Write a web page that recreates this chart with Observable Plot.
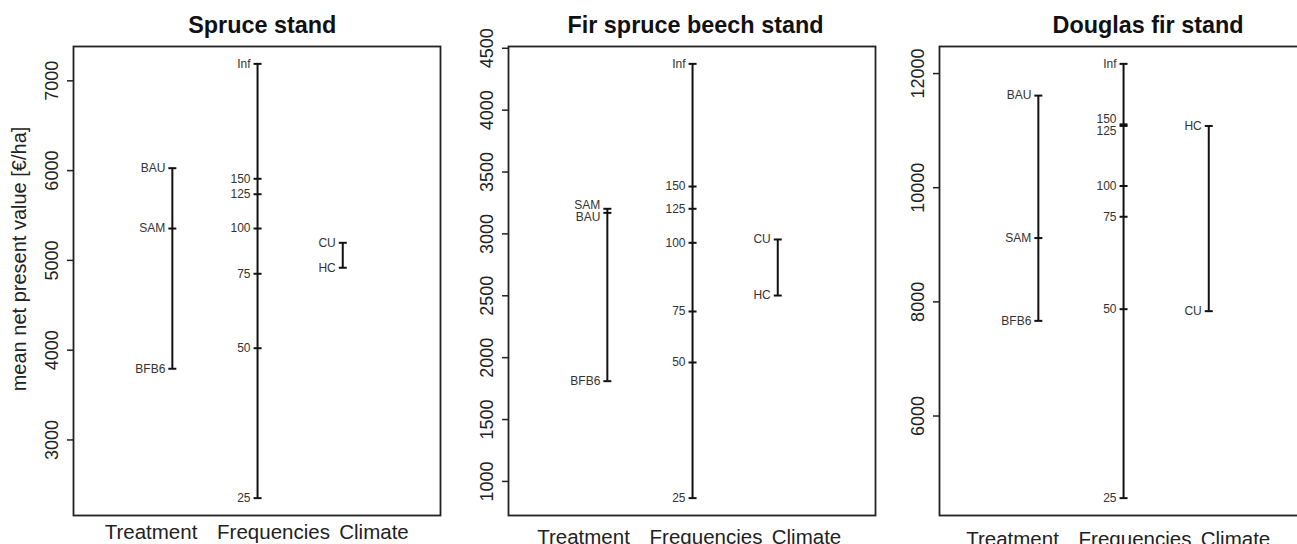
<!DOCTYPE html>
<html><head><meta charset="utf-8">
<script src="https://cdn.jsdelivr.net/npm/d3@7"></script>
<script src="https://cdn.jsdelivr.net/npm/@observablehq/plot@0.6"></script>
<style>
html,body{margin:0;padding:0;background:#fff;}
#chart{position:relative;width:1297px;height:544px;overflow:hidden;background:#fff;}
#chart > div{position:absolute;top:0;width:450px;height:544px;}
#chart svg{max-width:none !important;}
</style></head><body><div id="chart"></div>
<script>
// ---------- data ----------
const panelTitles = ["Spruce stand", "Fir spruce beech stand", "Douglas fir stand"];
const groupNames = ["Treatment", "Frequencies", "Climate"];
const treatmentLabels = ["BAU", "SAM", "BFB6"];
const frequencyLabels = ["Inf", "150", "125", "100", "75", "50", "25"];
const climateLabels = ["CU", "HC"];

const spruceTreatment = [6027, 5355, 3793];
const spruceFrequencies = [7189, 5909, 5737, 5355, 4851, 4022, 2352];
const spruceClimate = [5196, 4918];
const spruceTicks = [3000, 4000, 5000, 6000, 7000];

const firTreatment = [3170, 3203, 1810];
const firFrequencies = [4374, 3383, 3203, 2928, 2373, 1961, 865];
const firClimate = [2955, 2502];
const firTicks = [1000, 1500, 2000, 2500, 3000, 3500, 4000, 4500];

const douglasTreatment = [11614, 9118, 7667];
const douglasFrequencies = [12170, 11110, 11082, 10030, 9491, 7872, 4561];
const douglasClimate = [7837, 11082];
const douglasTicks = [6000, 8000, 10000, 12000];

const yLabel = "mean net present value [€/ha]";

// ---------- layout ----------
const FRAME_W = 367, M_LEFT = 73, M_RIGHT = 10, M_TOP = 46, M_BOTTOM = 29, H = 544;
const layout = [
  {left: 73,  titleDx: 5.3, xlabShift: 2.5, xlabBaseline: 538},
  {left: 508, titleDx: 3.5, xlabShift: 0,   xlabBaseline: 543},
  {left: 939, titleDx: 25,  xlabShift: -2,  xlabBaseline: 545}
];
const xDomain = [-0.160, 4.147];
const groupLabelPx = [75, 197.5, 298];
const pxToX = px => xDomain[0] + px / FRAME_W * (xDomain[1] - xDomain[0]);
const FONT = "'Liberation Sans', Arial, Helvetica, sans-serif";

const panelData = [
  {title: panelTitles[0], values: [spruceTreatment, spruceFrequencies, spruceClimate], ticks: spruceTicks},
  {title: panelTitles[1], values: [firTreatment, firFrequencies, firClimate], ticks: firTicks},
  {title: panelTitles[2], values: [douglasTreatment, douglasFrequencies, douglasClimate], ticks: douglasTicks}
];
const labelSets = [treatmentLabels, frequencyLabels, climateLabels];

function spread(ys, gap) {
  const items = ys.map((y, i) => ({i, y})).sort((a, b) => a.y - b.y);
  for (let it = 0; it < 100; it++) {
    let moved = false;
    for (let k = 1; k < items.length; k++) {
      const d = items[k].y - items[k - 1].y;
      if (d < gap - 1e-6) { const s = (gap - d) / 2; items[k - 1].y -= s; items[k].y += s; moved = true; }
    }
    if (!moved) break;
  }
  const out = []; items.forEach(o => out[o.i] = o.y); return out;
}

const dash = {draw(ctx) { ctx.moveTo(-4, 0); ctx.lineTo(4, 0); }};
const chart = document.getElementById("chart");

panelData.forEach((p, pi) => {
  const L = layout[pi];
  const all = p.values.flat();
  const [lo, hi] = d3.extent(all);
  const pad = (hi - lo) * 0.04;
  const domain = [lo - pad, hi + pad];
  const ys = d3.scaleLinear(domain, [H - M_BOTTOM, M_TOP]);

  const points = [];
  const ranges = [];
  p.values.forEach((vals, gi) => {
    const labs = labelSets[gi];
    const spreadPx = spread(vals.map(v => ys(v)), 12);
    vals.forEach((v, k) => points.push({group: groupNames[gi], pos: gi + 1, label: labs[k], value: v, labelY: ys.invert(spreadPx[k])}));
    ranges.push({group: groupNames[gi], pos: gi + 1, min: d3.min(vals), max: d3.max(vals)});
  });

  const marks = [
    Plot.frame({stroke: "#222", strokeWidth: 1.8}),
    Plot.axisY(p.ticks, {tickSize: 6, fill: "none", stroke: "#222", strokeWidth: 1.5}),
    Plot.text(p.ticks, {y: d => d, text: d => String(d), frameAnchor: "left", textAnchor: "middle", lineAnchor: "middle", rotate: -90, dx: -21.5, fontSize: 18, fill: "#222"}),
    Plot.ruleX(ranges, {x: "pos", y1: "min", y2: "max", stroke: "#111", strokeWidth: 2}),
    Plot.dot(points, {x: "pos", y: "value", symbol: dash, fill: "none", stroke: "#111", strokeWidth: 2}),
    Plot.text(points, {x: "pos", y: "labelY", text: "label", textAnchor: "end", dx: -7, fontSize: 12, fill: "#333"}),
    Plot.text(groupNames, {x: (d, i) => pxToX(groupLabelPx[i] + L.xlabShift), text: d => d, frameAnchor: "bottom", textAnchor: "middle", lineAnchor: "bottom", dy: L.xlabBaseline - (H - M_BOTTOM), fontSize: 20.5, fill: "#222"}),
    Plot.text([p.title], {text: d => d, frameAnchor: "top", textAnchor: "middle", lineAnchor: "bottom", dy: 32 - M_TOP, dx: L.titleDx, fontSize: 23.4, fontWeight: "bold", fill: "#111"})
  ];
  if (pi === 0) {
    marks.push(Plot.text([yLabel], {text: d => d, frameAnchor: "left", textAnchor: "middle", lineAnchor: "middle", rotate: -90, dx: 19.5 - M_LEFT, dy: -22, fontSize: 20, fill: "#222"}));
  }

  const svg = Plot.plot({
    width: M_LEFT + FRAME_W + M_RIGHT,
    height: H,
    marginLeft: M_LEFT, marginRight: M_RIGHT, marginTop: M_TOP, marginBottom: M_BOTTOM,
    x: {domain: xDomain, axis: null},
    y: {domain},
    style: {fontFamily: FONT, background: "transparent", overflow: "visible", maxWidth: "none"},
    marks
  });
  const wrap = document.createElement("div");
  wrap.style.left = (L.left - M_LEFT) + "px";
  wrap.appendChild(svg);
  chart.appendChild(wrap);
});
</script></body></html>
